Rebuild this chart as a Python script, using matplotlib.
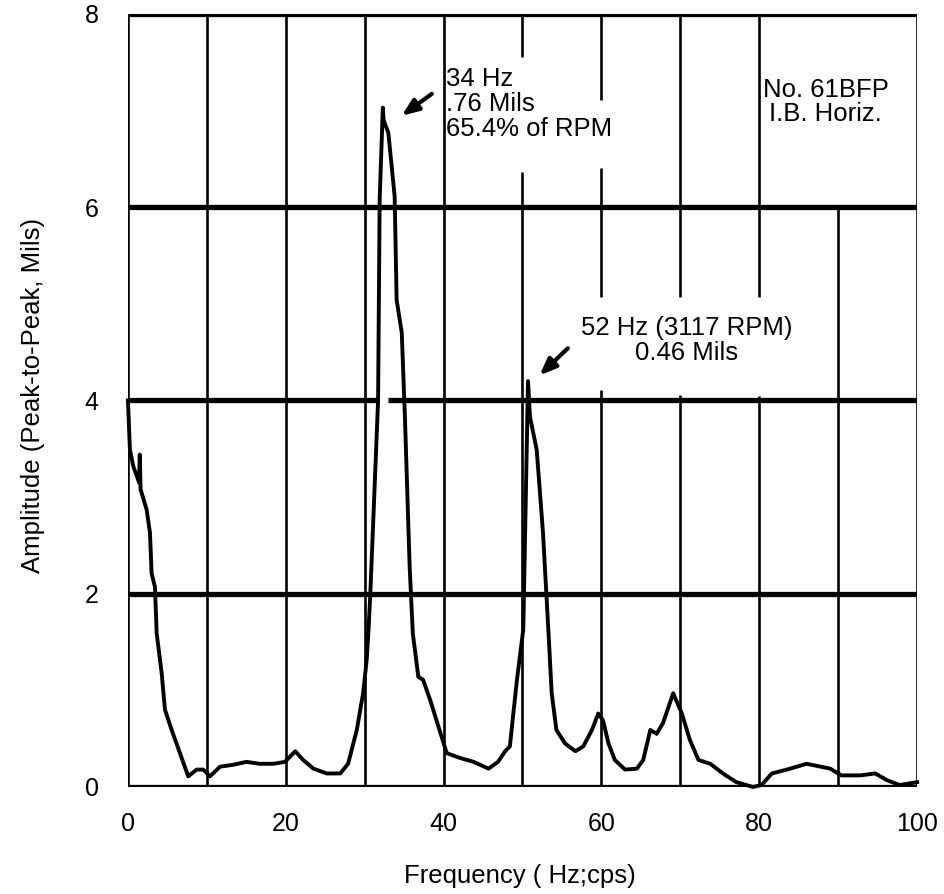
import matplotlib
matplotlib.use('Agg')
import matplotlib.pyplot as plt

plt.rcParams['font.family'] = ['Liberation Sans', 'DejaVu Sans']

# spectrum trace (Hz, mils peak-to-peak on chart scale)
freq = [0.0, 0.25, 0.67, 1.2, 1.4, 1.5, 1.6, 2.37, 2.79, 3.0, 3.42, 3.64, 4.27, 4.69,
        5.54, 6.59, 7.64, 8.7, 9.54, 10.4, 11.66, 13.35, 15.0, 16.7, 18.4, 19.9,
        21.2, 22.2, 23.5, 25.2, 26.9, 27.9, 29.0, 29.8, 30.25, 30.46, 30.7, 31.7,
        31.9, 32.3, 32.4, 33.0, 33.8, 34.05, 34.7, 35.1, 35.3, 35.7, 36.1, 36.8,
        37.4, 38.3, 39.1, 40.4, 42.1, 43.8, 45.7, 46.9, 47.8, 48.4, 48.8, 49.3,
        50.1, 50.7, 50.95, 51.8, 52.6, 53.3, 53.7, 54.3, 55.4, 56.7, 57.7, 58.8,
        59.6, 60.2, 60.9, 61.7, 63.0, 64.5, 65.3, 66.2, 67.0, 67.8, 69.1, 70.2,
        71.2, 72.3, 73.8, 75.4, 77.1, 79.2, 80.3, 81.6, 83.5, 86.0, 89.0, 90.4,
        92.8, 94.7, 96.2, 97.8, 100.0]
amp = [4.0, 3.49, 3.32, 3.2, 3.15, 3.44, 3.08, 2.87, 2.63, 2.21, 2.07, 1.59, 1.18, 0.80,
       0.59, 0.35, 0.11, 0.18, 0.18, 0.11, 0.21, 0.23, 0.26, 0.24, 0.24, 0.26,
       0.37, 0.28, 0.19, 0.14, 0.14, 0.24, 0.59, 0.97, 1.31, 1.59, 1.97, 4.0,
       6.08, 7.03, 6.9, 6.77, 6.11, 5.04, 4.7, 3.83, 3.31, 2.28, 1.59, 1.14,
       1.11, 0.9, 0.69, 0.35, 0.30, 0.26, 0.19, 0.26, 0.37, 0.42, 0.73, 1.11,
       1.63, 4.2, 3.83, 3.49, 2.63, 1.59, 0.97, 0.59, 0.45, 0.37, 0.42, 0.59,
       0.76, 0.69, 0.45, 0.28, 0.18, 0.19, 0.28, 0.59, 0.55, 0.66, 0.97, 0.76,
       0.49, 0.28, 0.24, 0.14, 0.05, 0.0, 0.02, 0.14, 0.18, 0.24, 0.19, 0.12,
       0.12, 0.14, 0.07, 0.02, 0.05]

xticks = [0, 20, 40, 60, 80, 100]
yticks = [0, 2, 4, 6, 8]

# vertical chart lines, broken where the hand-written notes sit
vlines_x = [0, 10, 20, 30, 40, 50, 50, 60, 60, 60, 70, 70, 80, 80, 90, 100]
vlines_lo = [0, 0, 0, 0, 0, 0, 7.55, 0, 5.07, 7.11, 0, 5.07, 0, 5.07, 0, 0]
vlines_hi = [8, 8, 8, 8, 8, 6.36, 8, 4.11, 6.41, 8, 4.06, 8, 4.05, 8, 6.0, 8]

# horizontal chart lines (the 4-line has a gap at the 34 Hz peak)
hlines_y = [0, 2, 4, 4, 6, 8]
hlines_lo = [0, 0, 0, 32.9, 0, 0]
hlines_hi = [100, 100, 31.6, 100, 100, 100]

note1 = '34 Hz\n.76 Mils\n65.4% of RPM'
note2 = '52 Hz (3117 RPM)\n0.46 Mils'
note3 = 'No. 61BFP\nI.B. Horiz.'


def plotar():
    fig = plt.figure(figsize=(9.45, 8.94), dpi=100)
    ax = fig.add_axes([0.1354, 0.1197, 0.835, 0.8647])

    ax.vlines(vlines_x, vlines_lo, vlines_hi, colors='black', linewidth=1.9, zorder=1)
    ax.hlines(hlines_y, hlines_lo, hlines_hi, colors='black', linewidth=3.8, zorder=1)

    ax.plot(freq, amp, color='black', linewidth=2.8, zorder=3, clip_on=False,
            solid_joinstyle='round')

    arrow = dict(arrowstyle='-|>,head_length=1.0,head_width=0.4', color='black', lw=3)
    ax.annotate('', xy=(34.4, 6.93), xytext=(38.8, 7.19), arrowprops=arrow)
    ax.annotate('', xy=(51.9, 4.24), xytext=(56.0, 4.56), arrowprops=arrow)

    ax.text(40.3, 7.45, note1, fontsize=18.5, va='top', ha='left', linespacing=1.06)
    ax.text(70.8, 4.87, note2, fontsize=18.5, va='top', ha='center', linespacing=1.02)
    ax.text(88.4, 7.34, note3, fontsize=18.5, va='top', ha='center', linespacing=1.0)

    ax.set_xlim(0, 100)
    ax.set_ylim(0, 8)
    ax.set_xticks(xticks)
    ax.set_yticks(yticks)
    ax.tick_params(length=0, labelsize=18)
    ax.tick_params(axis='x', pad=18)
    ax.tick_params(axis='y', pad=21)
    for s in ax.spines.values():
        s.set_visible(False)

    ax.set_xlabel('Frequency ( Hz;cps)', fontsize=18.5)
    ax.set_ylabel('Amplitude (Peak-to-Peak, Mils)', fontsize=18.5)
    ax.xaxis.set_label_coords(0.497, -0.100)
    ax.yaxis.set_label_coords(-0.105, 0.507)

    fig.savefig('out.png', dpi=100)


if __name__ == '__main__':
    plotar()
